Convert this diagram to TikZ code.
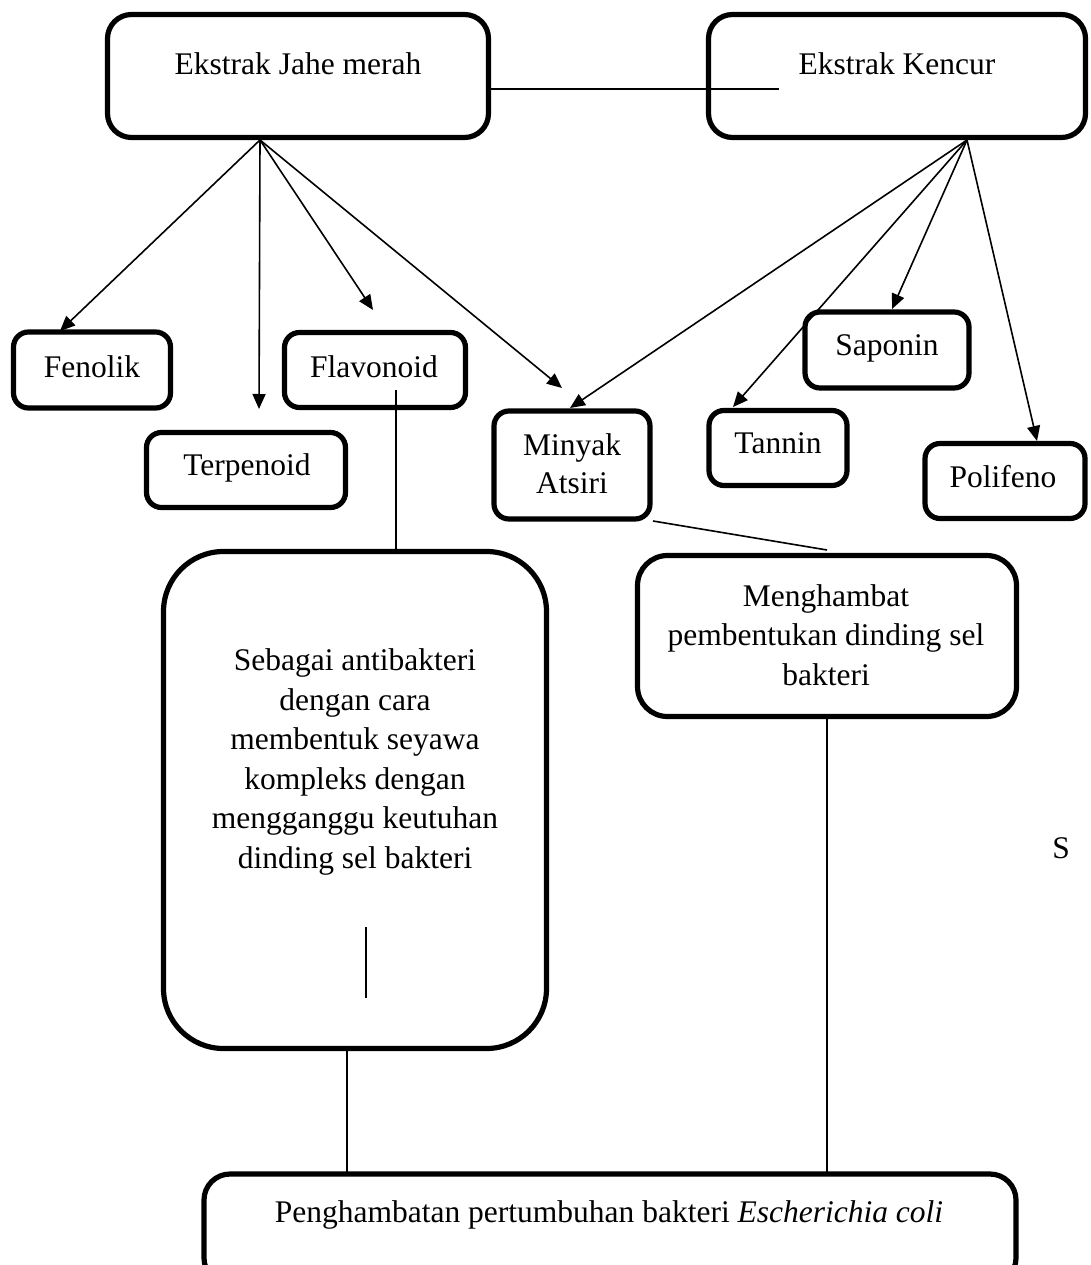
\documentclass[tikz,border=0pt]{standalone}
\usepackage{fontspec}
\setmainfont{Liberation Serif}
\usetikzlibrary{arrows.meta}
\begin{document}
\begin{tikzpicture}[x=1pt,y=-1pt,
  box/.style={draw, line width=5.2pt, rounded corners=#1, inner sep=0pt},
  txt/.style={inner sep=0pt, align=center, font=\fontsize{31.5}{39.5}\selectfont},
  conn/.style={line width=1.6pt},
  arr/.style={line width=1.6pt, -{Triangle[length=15pt,width=13pt]}}]
\useasboundingbox (0,0) rectangle (1091,1265);
\clip (0,0) rectangle (1091,1265);
\fill[white] (0,0) rectangle (1091,1265);

% boxes
\node[box=24pt, minimum width=381pt, minimum height=123pt] (jahe) at (298,76) {};
\node[box=24pt, minimum width=377pt, minimum height=123pt] (kencur) at (897,76) {};
\node[box=15pt, minimum width=157pt, minimum height=76pt] (fenolik) at (92,370) {};
\node[box=15pt, minimum width=199pt, minimum height=75pt] (terpenoid) at (246,470) {};
\node[box=15pt, minimum width=181pt, minimum height=75pt] (flavonoid) at (375,370) {};
\node[box=15pt, minimum width=156pt, minimum height=108pt] (minyak) at (572,465) {};
\node[box=15pt, minimum width=138pt, minimum height=75pt] (tannin) at (778,448) {};
\node[box=15pt, minimum width=164pt, minimum height=76pt] (saponin) at (887,350) {};
\node[box=15pt, minimum width=160pt, minimum height=75pt] (polifeno) at (1005,481) {};
\node[box=60pt, minimum width=383pt, minimum height=497pt] (antib) at (355,800) {};
\node[box=30pt, minimum width=379pt, minimum height=161pt] (hambat) at (827,636) {};
\node[box=26pt, minimum width=812pt, minimum height=110pt] (ecoli) at (610,1229) {};

% texts
\node[txt, anchor=base] (jahet) at (298,75) {Ekstrak Jahe merah};
\node[txt, anchor=base] (kencurt) at (897,75) {Ekstrak Kencur};
\node[txt, anchor=base] (fenolikt) at (92,377) {Fenolik};
\node[txt, anchor=base] (terpenoidt) at (247,475) {Terpenoid};
\node[txt, anchor=base] (flavonoidt) at (374,377) {Flavonoid};
\node[txt, anchor=base] (minyakt1) at (572,455) {Minyak};
\node[txt, anchor=base] (minyakt2) at (572,493) {Atsiri};
\node[txt, anchor=base] (tannint) at (778,453) {Tannin};
\node[txt, anchor=base] (saponint) at (887,355) {Saponin};
\node[txt, anchor=base] (polifenot) at (1003,487) {Polifeno};
\node[txt] (antibt) at (355,762) {Sebagai antibakteri\\dengan cara\\membentuk seyawa\\kompleks dengan\\mengganggu keutuhan\\dinding sel bakteri};
\node[txt] (hambatt) at (826,635) {Menghambat\\pembentukan dinding sel\\bakteri};
\node[txt, anchor=base] (ecolit) at (609,1222) {Penghambatan pertumbuhan bakteri \textit{Escherichia coli}};
\node[txt, anchor=base] (stray) at (1061,858) {S};

% connector end points
\coordinate (jo) at (260,140);
\coordinate (ko) at (967,140);
\coordinate (jk) at (779,89);
\coordinate (jkstart) at (490,89);
\coordinate (tFen) at (60,331);
\coordinate (tTer) at (259,409);
\coordinate (tFla) at (373,310);
\coordinate (tMinJ) at (562,388);
\coordinate (tMinK) at (570,408);
\coordinate (tTan) at (733,407);
\coordinate (tSap) at (892,309);
\coordinate (tPol) at (1037,441);
\coordinate (flavTop) at (396,390);
\coordinate (flavBot) at (396,551);
\coordinate (minyR) at (653,521);
\coordinate (hambTop) at (827,550);
\coordinate (innerTop) at (366,927);
\coordinate (innerBot) at (366,998);
\coordinate (antibB) at (347,1049);
\coordinate (antibE) at (347,1174);
\coordinate (hambB) at (827,717);
\coordinate (hambE) at (827,1174);

% connectors
\draw[conn] (jkstart) -- (jk);
\draw[arr] (jo) -- (tFen);
\draw[arr] (jo) -- (tTer);
\draw[arr] (jo) -- (tFla);
\draw[arr] (jo) -- (tMinJ);
\draw[arr] (ko) -- (tMinK);
\draw[arr] (ko) -- (tTan);
\draw[arr] (ko) -- (tSap);
\draw[arr] (ko) -- (tPol);
\draw[conn] (flavTop) -- (flavBot);
\draw[conn] (minyR) -- (hambTop);
\draw[conn] (innerTop) -- (innerBot);
\draw[conn] (antibB) -- (antibE);
\draw[conn] (hambB) -- (hambE);
\end{tikzpicture}
\end{document}
